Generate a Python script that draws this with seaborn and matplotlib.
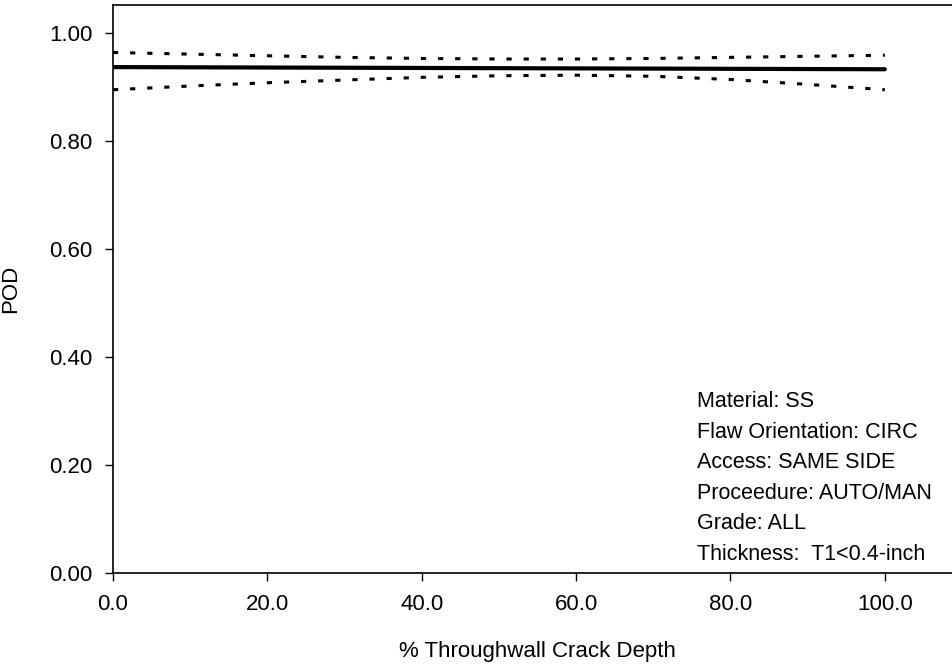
import numpy as np
import pandas as pd
import matplotlib
matplotlib.use("Agg")
import matplotlib.pyplot as plt
import seaborn as sns

# crack depth (% throughwall) and POD curve with confidence bounds
depth = [0, 10, 20, 30, 40, 50, 60, 70, 80, 90, 100]
pod_mean = [0.937, 0.9366, 0.9362, 0.9358, 0.9354, 0.935, 0.9346, 0.9342, 0.9338, 0.9334, 0.933]
pod_upper = [0.964, 0.961, 0.958, 0.955, 0.953, 0.952, 0.952, 0.953, 0.955, 0.957, 0.959]
pod_lower = [0.895, 0.902, 0.908, 0.913, 0.918, 0.921, 0.922, 0.920, 0.914, 0.905, 0.895]

x_ticks = [0, 20, 40, 60, 80, 100]
y_ticks = [0.0, 0.2, 0.4, 0.6, 0.8, 1.0]

info_lines = ["Material: SS", "Flaw Orientation: CIRC", "Access: SAME SIDE",
              "Proceedure: AUTO/MAN", "Grade: ALL", "Thickness:  T1<0.4-inch"]

df = pd.DataFrame({"depth": depth, "mean": pod_mean,
                   "upper": pod_upper, "lower": pod_lower})

sns.set_style("white")
plt.rcParams["font.family"] = ["Liberation Sans", "DejaVu Sans"]
plt.rcParams["text.color"] = "black"
plt.rcParams["axes.labelcolor"] = "black"
plt.rcParams["xtick.color"] = "black"
plt.rcParams["ytick.color"] = "black"

fig = plt.figure(figsize=(9.53, 6.71), dpi=100)
ax = fig.add_axes([113 / 953, 1 - 573 / 671, (962 - 113) / 953, (573 - 5) / 671])

sns.lineplot(data=df, x="depth", y="mean", ax=ax, color="black", linewidth=3.0)
for col in ["upper", "lower"]:
    sns.lineplot(data=df, x="depth", y=col, ax=ax, color="black",
                 linewidth=2.2, linestyle=(0, (1.7, 3.9)))

ax.set_xlim(0, 110)
ax.set_ylim(0, 1.052)
ax.set_xticks(x_ticks)
ax.set_xticklabels([f"{v:.1f}" for v in x_ticks])
ax.set_yticks(y_ticks)
ax.set_yticklabels([f"{v:.2f}" for v in y_ticks])

for s in ax.spines.values():
    s.set_color("black")
    s.set_linewidth(1.2)

ax.tick_params(axis="both", which="both", direction="out", length=6,
               width=1, labelsize=16, pad=9, left=True, bottom=True)

ax.set_xlabel("% Throughwall Crack Depth", fontsize=16, labelpad=19)
ax.set_ylabel("POD", fontsize=16, labelpad=20)

ax.text(697 / 953, 1 - 391 / 671, "\n".join(info_lines), transform=fig.transFigure,
        fontsize=15.5, va="top", ha="left", linespacing=1.6)

plt.savefig("out.png", dpi=100)
plt.close()
